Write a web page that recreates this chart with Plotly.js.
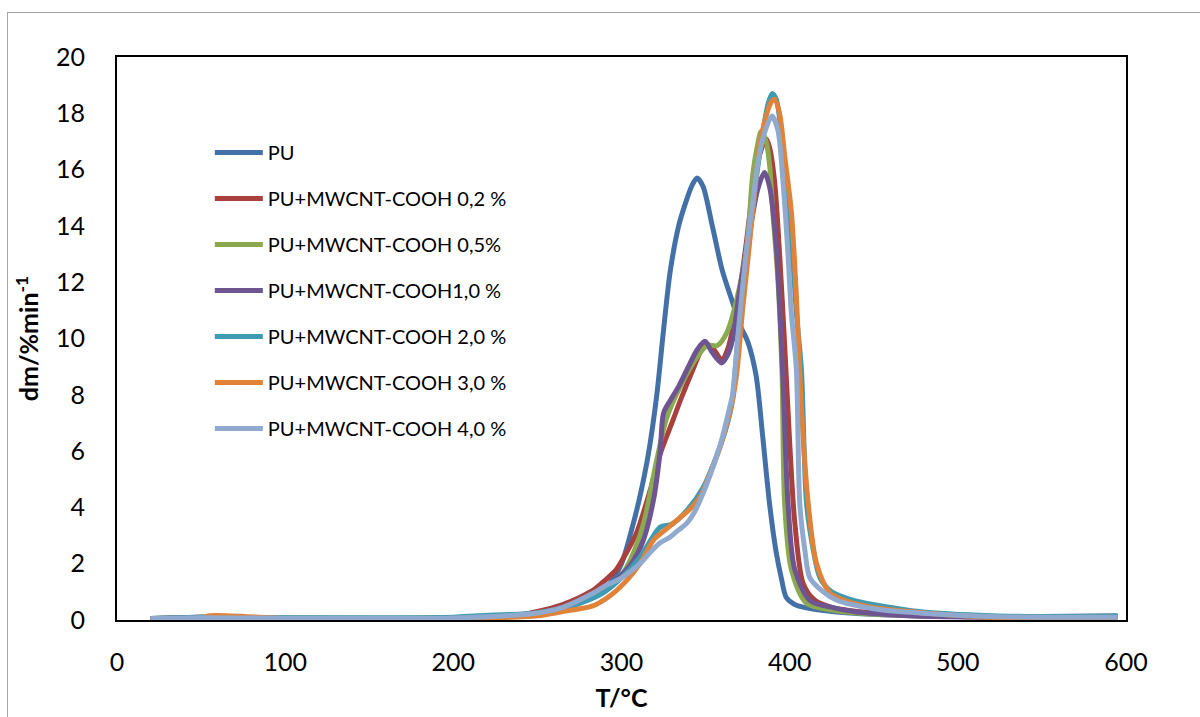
<!DOCTYPE html>
<html>
<head>
<meta charset="utf-8">
<script src="https://cdn.plot.ly/plotly-3.0.1.min.js"></script>
<style>
  html, body { margin: 0; padding: 0; background: #fff; }
  #frame { position: absolute; left: 7px; top: 12px; width: 1300px; height: 800px; border: 1px solid #a6a6a6; }
  #chart { position: absolute; left: 0; top: 0; width: 1200px; height: 717px; }
</style>
</head>
<body>
<div id="frame"></div>
<div id="chart"></div>
<script>
// ---- data ----
const seriesNames = [
  "PU",
  "PU+MWCNT-COOH 0,2 %",
  "PU+MWCNT-COOH 0,5%",
  "PU+MWCNT-COOH1,0 %",
  "PU+MWCNT-COOH 2,0 %",
  "PU+MWCNT-COOH 3,0 %",
  "PU+MWCNT-COOH 4,0 %"
];

const T_PU = [20, 40, 60, 80, 100, 150, 200, 230, 250, 263, 275, 283, 293, 300, 306, 311, 316, 321, 325, 329, 334, 338, 342, 345, 348.5, 354, 360, 366, 371, 375, 380, 384, 388, 392, 395, 398, 403, 410, 425, 450, 500, 550, 595];
const V_PU = [0.0, 0.08, 0.08, 0.06, 0.06, 0.05, 0.06, 0.1, 0.2, 0.43, 0.6, 0.8, 1.3, 2.0, 3.2, 4.4, 5.9, 8.0, 10.3, 12.4, 14.0, 14.8, 15.45, 15.7, 15.4, 14.0, 12.4, 11.3, 10.4, 9.9, 8.7, 6.5, 4.15, 2.4, 1.5, 0.8, 0.55, 0.43, 0.3, 0.2, 0.12, 0.12, 0.15];

const T_02 = [20, 23, 50, 100, 150, 200, 230, 250, 265, 275, 283, 290, 297, 303, 309, 317, 323, 330.6, 335, 342.5, 348.5, 351, 355, 359.6, 363, 366, 370, 374, 378, 382, 386, 388, 391, 394, 397, 400, 403, 408, 415, 425, 450, 500, 550, 595];
const V_02 = [0.05, 0.05, 0.1, 0.06, 0.05, 0.07, 0.1, 0.3, 0.55, 0.8, 1.05, 1.4, 1.8, 2.4, 3.1, 4.6, 5.9, 7.1, 7.8, 8.9, 9.7, 9.8, 9.6, 9.24, 9.6, 10.3, 11.6, 13.3, 15.2, 16.5, 17.1, 16.8, 15.6, 13.0, 9.8, 6.3, 3.5, 1.3, 0.7, 0.45, 0.25, 0.12, 0.1, 0.1];

const T_05 = [20, 50, 100, 150, 200, 250, 265, 280, 290, 300, 305, 313, 321, 327, 335, 345, 351, 357, 362.6, 368.6, 374.6, 378, 381, 383, 386, 388, 390, 393, 395.5, 397, 401, 410, 425, 450, 500, 550, 595];
const V_05 = [0.05, 0.1, 0.08, 0.06, 0.08, 0.25, 0.45, 0.8, 1.1, 1.6, 2.1, 3.4, 5.7, 7.2, 8.3, 9.35, 9.75, 9.75, 10.2, 11.4, 13.3, 15.8, 16.9, 17.35, 17.0, 16.2, 14.5, 12.1, 8.7, 4.15, 1.8, 0.6, 0.35, 0.2, 0.12, 0.1, 0.12];

const T_10 = [20, 50, 100, 150, 200, 250, 265, 280, 290, 300, 307, 313, 319, 323, 325, 329, 334, 339, 345, 349.6, 354, 359.6, 363, 366, 370, 374, 378, 381, 385, 388, 392, 396, 399, 403, 412, 425, 438, 470, 520, 595];
const V_10 = [0.05, 0.1, 0.05, 0.05, 0.06, 0.25, 0.45, 0.8, 1.1, 1.6, 2.1, 2.84, 4.26, 6.0, 7.35, 7.8, 8.3, 8.9, 9.6, 9.9, 9.5, 9.13, 9.4, 9.95, 11.6, 13.0, 14.4, 15.3, 15.9, 15.4, 13.3, 8.6, 4.15, 1.8, 0.7, 0.45, 0.3, 0.15, 0.1, 0.1];

const T_20 = [20, 50, 100, 150, 200, 215, 250, 265, 280, 290, 300, 311, 317, 323, 330, 339, 348.5, 357, 362.6, 366, 368.6, 372, 376, 380, 384, 387, 389.5, 392, 395, 398, 401, 404, 407, 410, 414, 418, 425, 438, 477, 520, 595];
const V_20 = [0.05, 0.1, 0.08, 0.08, 0.1, 0.15, 0.25, 0.4, 0.7, 1.0, 1.5, 2.24, 2.8, 3.3, 3.4, 3.9, 4.7, 5.9, 6.9, 7.8, 9.6, 11.4, 13.5, 15.6, 17.3, 18.3, 18.7, 18.5, 17.3, 15.6, 13.5, 10.9, 8.9, 4.15, 2.5, 1.5, 1.0, 0.7, 0.3, 0.15, 0.12];

const T_30 = [20, 50, 55, 100, 150, 200, 250, 265, 283, 293, 303, 311, 319, 326, 333, 340, 346.7, 352, 358.6, 366, 368.6, 372, 376, 379, 382, 386, 389, 391, 394, 397, 401, 404, 406, 408, 411, 416, 424, 435, 448, 480, 520, 595];
const V_30 = [0.05, 0.05, 0.15, 0.05, 0.05, 0.05, 0.15, 0.3, 0.5, 0.85, 1.4, 2.0, 2.84, 3.2, 3.55, 3.9, 4.37, 5.1, 6.15, 7.8, 8.8, 11.0, 13.3, 15.1, 16.8, 17.9, 18.4, 18.5, 18.0, 16.5, 14.5, 11.5, 8.8, 6.5, 4.15, 2.0, 0.96, 0.65, 0.46, 0.25, 0.1, 0.05];

const T_40 = [20, 50, 100, 150, 200, 250, 265, 283, 290, 300, 311, 317, 323, 329, 334, 339, 344, 348.5, 353, 357, 360, 364.5, 366, 370, 374.6, 378, 381, 385, 389.5, 393, 396, 399, 401, 404, 406, 409, 412, 420, 428, 450, 477, 520, 595];
const V_40 = [0.05, 0.08, 0.06, 0.06, 0.07, 0.25, 0.45, 0.95, 1.2, 1.5, 2.0, 2.4, 2.74, 2.95, 3.2, 3.45, 3.9, 4.5, 5.2, 5.9, 6.5, 7.6, 8.0, 10.6, 13.3, 14.8, 16.2, 17.3, 17.9, 17.4, 15.6, 13.0, 10.9, 8.9, 4.15, 2.5, 1.5, 1.0, 0.7, 0.4, 0.25, 0.12, 0.1];

const xTicks = [0, 100, 200, 300, 400, 500, 600];
const yTicks = [0, 2, 4, 6, 8, 10, 12, 14, 16, 18, 20];

// ---- styling ----
const colors = ["#4470A8", "#A8403E", "#8BAA4F", "#6E5490", "#3E9BB2", "#E08238", "#8FA9CF"];
const Ts = [T_PU, T_02, T_05, T_10, T_20, T_30, T_40];
const Vs = [V_PU, V_02, V_05, V_10, V_20, V_30, V_40];

const FONT = "Lato, 'Open Sans', sans-serif";

const traces = seriesNames.map((name, i) => ({
  type: "scatter",
  mode: "lines",
  name: name,
  x: Ts[i],
  y: Vs[i],
  legendgroup: "g" + i,
  line: { color: colors[i], width: 5, shape: "spline", smoothing: 0.8 },
  hoverinfo: "x+y+name"
}));

const layout = {
  width: 1200,
  height: 717,
  paper_bgcolor: "rgba(0,0,0,0)",
  plot_bgcolor: "#ffffff",
  margin: { l: 117, r: 74, t: 57, b: 97 },
  font: { family: FONT, color: "#000000", size: 25 },
  showlegend: true,
  legend: {
    x: 0.092, y: 0.865, xanchor: "left", yanchor: "top",
    bgcolor: "rgba(0,0,0,0)",
    font: { family: FONT, size: 20, color: "#000" },
    traceorder: "grouped",
    tracegroupgap: 17,
    itemwidth: 48
  },
  xaxis: {
    range: [0, 600],
    tickvals: xTicks,
    ticktext: xTicks.map(String),
    showgrid: false, zeroline: false,
    showline: true, mirror: true, linecolor: "#000", linewidth: 2,
    ticks: "", ticklabelstandoff: 19,
    tickfont: { family: FONT, size: 25, color: "#000" },
    title: { text: "<b>T/°C</b>", font: { family: FONT, size: 25, color: "#000" }, standoff: 14 }
  },
  yaxis: {
    range: [0, 20],
    tickvals: yTicks,
    ticktext: yTicks.map(String),
    showgrid: false, zeroline: false,
    showline: true, mirror: true, linecolor: "#000", linewidth: 2,
    ticks: "", ticklabelstandoff: 25,
    tickfont: { family: FONT, size: 25, color: "#000" },
    title: { text: "<b>dm/%min<sup>-1</sup></b>", font: { family: FONT, size: 25, color: "#000" }, standoff: 10 }
  }
};

Plotly.newPlot("chart", traces, layout, { displayModeBar: false, staticPlot: true });
</script>
</body>
</html>
